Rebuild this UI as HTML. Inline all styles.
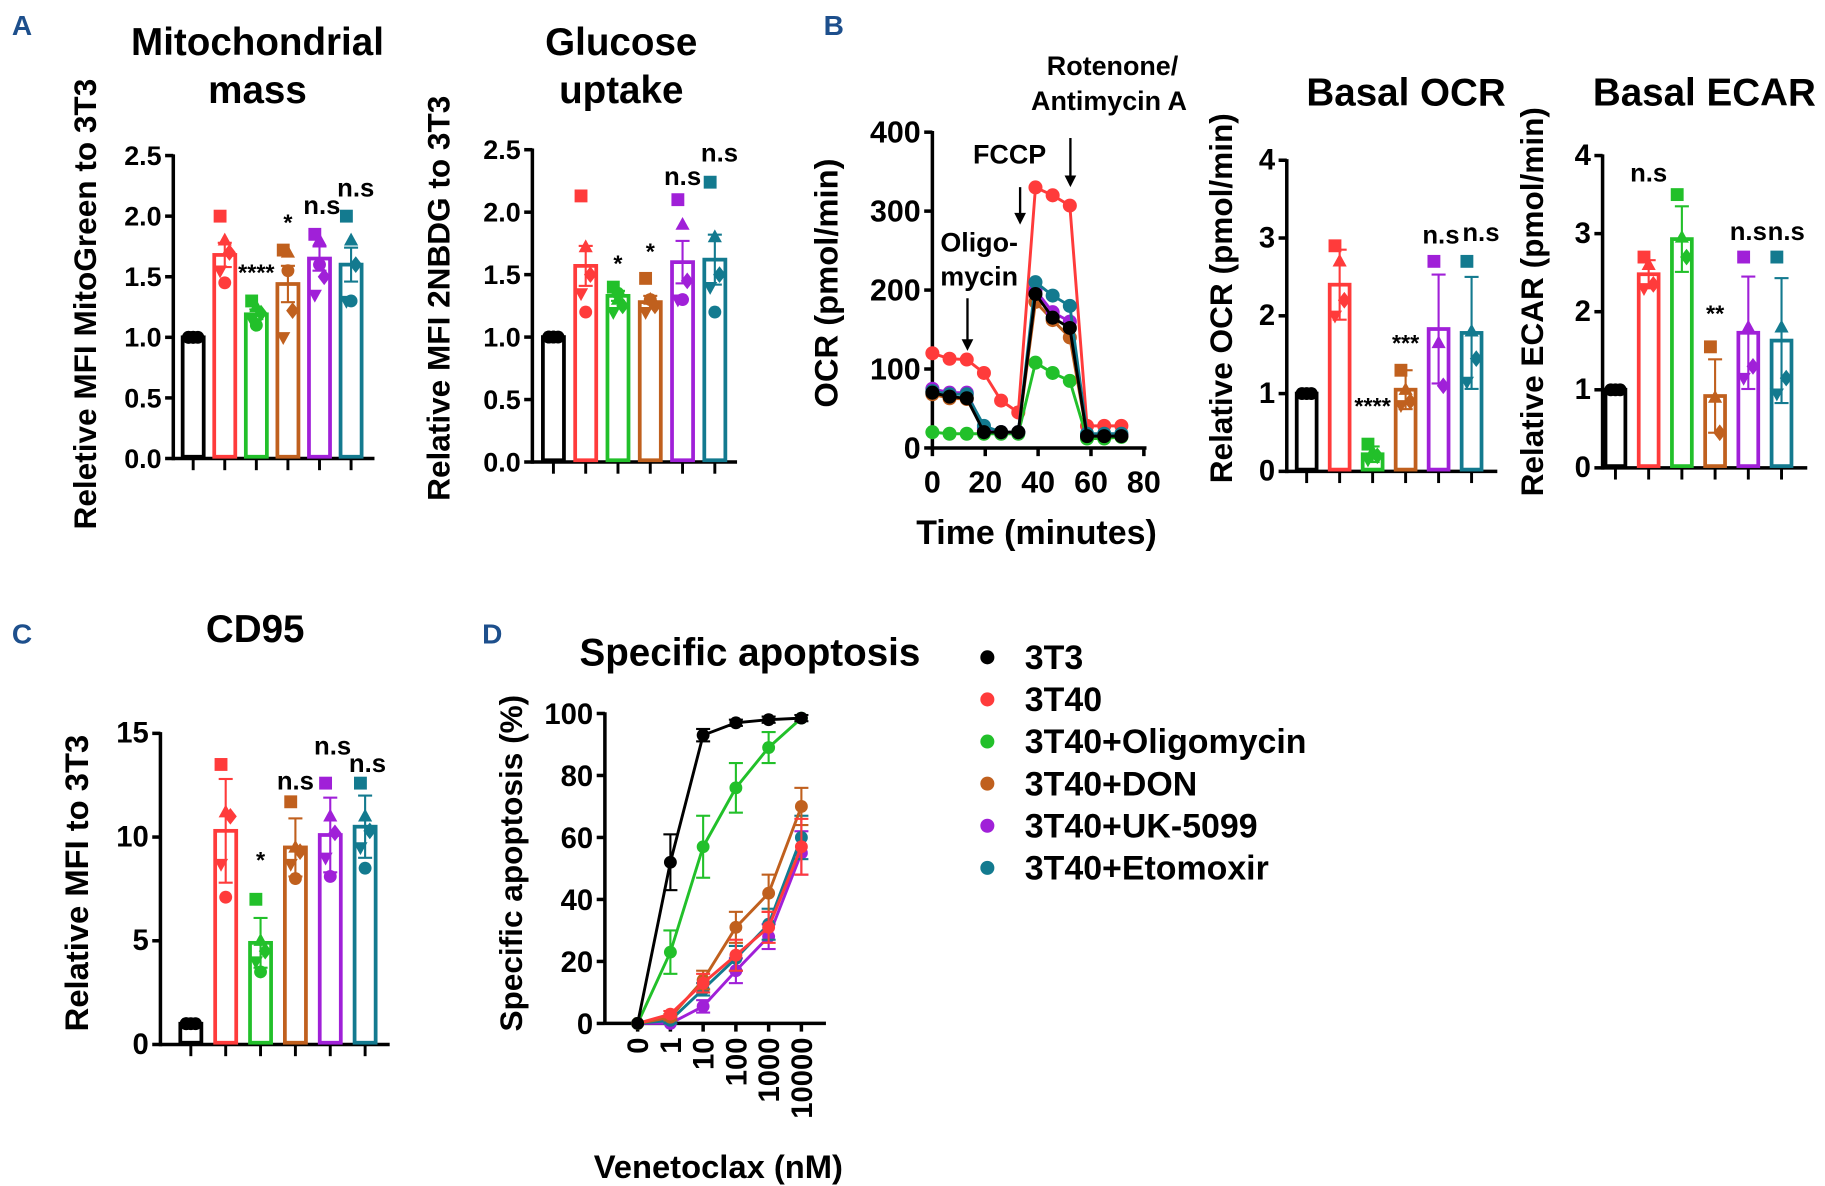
<!DOCTYPE html>
<html><head><meta charset="utf-8">
<style>
html,body{margin:0;padding:0;background:#fff;}
svg{display:block;}
text{font-family:"Liberation Sans",Arial,sans-serif;font-weight:bold;fill:#000;}
</style></head>
<body>
<svg id="fig" width="1825" height="1186" viewBox="0 0 1560 1014" xmlns="http://www.w3.org/2000/svg">
<text x="10" y="30" font-size="24" style="fill:#1d4f8c">A</text>
<text x="704" y="30" font-size="24" style="fill:#1d4f8c">B</text>
<text x="10" y="550" font-size="24" style="fill:#1d4f8c">C</text>
<text x="412" y="550" font-size="24" style="fill:#1d4f8c">D</text>
</svg>
<script>
const NS="http://www.w3.org/2000/svg";
const svg=document.getElementById('fig');
const groupColors=["#000000","#ff3b3b","#22c02a","#c0601e","#a020d8","#137a8f"];
const groupNames=["3T3","3T40","3T40+Oligomycin","3T40+DON","3T40+UK-5099","3T40+Etomoxir"];

// Mitochondrial mass
const mitoMeans=[1.0,1.68,1.19,1.44,1.65,1.6];
const mitoErr=[0.01,0.1,0.04,0.15,0.1,0.14];
const mitoPts=[[1,1,1,1,1],[2.0,1.8,1.7,1.55,1.45],[1.3,1.25,1.2,1.15,1.1],[1.72,1.7,1.22,1.0,1.55],[1.85,1.8,1.5,1.35,1.6],[2.0,1.8,1.6,1.3,1.3]];
const mitoSig=["","","****","*","n.s","n.s"];
const mitoTicks=["0.0","0.5","1.0","1.5","2.0","2.5"];
// Glucose uptake
const gluMeans=[1.0,1.57,1.33,1.28,1.6,1.62];
const gluErr=[0.01,0.16,0.04,0.05,0.17,0.2];
const gluPts=[[1,1,1,1,1],[2.13,1.72,1.5,1.35,1.2],[1.4,1.3,1.25,1.2,1.35],[1.47,1.3,1.25,1.2,1.3],[2.1,1.9,1.45,1.3,1.3],[2.24,1.8,1.5,1.4,1.2]];
const gluSig=["","","*","*","n.s","n.s"];
// Basal OCR
const ocrMeans=[1.0,2.4,0.22,1.05,1.83,1.78];
const ocrErr=[0.01,0.45,0.1,0.25,0.7,0.72];
const ocrPts=[[1,1,1],[2.9,2.7,2.2,2.0],[0.35,0.25,0.2,0.15],[1.3,1.05,0.9,0.85],[2.7,1.65,1.1],[2.7,1.8,1.45,1.15]];
const ocrSig=["","","****","***","n.s","n.s"];
const fourTicks=["0","1","2","3","4"];
// Basal ECAR
const ecarMeans=[1.0,2.48,2.93,0.92,1.73,1.63];
const ecarErr=[0.01,0.18,0.42,0.47,0.72,0.8];
const ecarPts=[[1,1,1],[2.7,2.6,2.35,2.3],[3.5,2.95,2.7],[1.55,0.9,0.45],[2.7,1.8,1.3,1.15],[2.7,1.8,1.15,0.95]];
const ecarSig=["","n.s","","**","n.s","n.s"];
// CD95
const cdMeans=[1.0,10.3,4.9,9.5,10.1,10.5];
const cdErr=[0.1,2.5,1.2,1.4,1.8,1.5];
const cdPts=[[1,1,1,1],[13.5,11.2,11,8.7,7.1],[7,5,4.5,4,3.5],[11.7,9.5,9.3,8.7,8],[12.6,11,10.2,9,8.1],[12.6,11,10.3,9.5,8.5]];
const cdSig=["","","*","n.s","n.s","n.s"];
const cdTicks=["0","5","10","15"];
// OCR time course
const ocrTimes=[0,6.5,13,19.5,26,32.5,39,45.5,52,58.5,65,71.5];
const ocrRed=[120,113,112,95,60,45,330,320,307,28,28,28];
const ocrBlack=[70,65,63,20,20,20,195,165,152,15,15,15];
const ocrGreen=[20,18,18,18,18,18,108,95,85,12,12,14];
const ocrTeal=[72,68,68,28,20,20,210,193,180,18,18,18];
const ocrPurple=[75,70,70,25,20,20,200,172,160,16,16,16];
const ocrBrown=[68,63,62,22,20,20,185,162,140,16,16,16];
const ocrYTicks=["0","100","200","300","400"];
const ocrXTicks=["0","20","40","60","80"];
// Apoptosis
const doseLabels=["0","1","10","100","1000","10000"];
const apoBlack=[0,52,93,97,98,98.5];
const apoBlackErr=[0,9,2,1,1,1];
const apoGreen=[0,23,57,76,89,98.5];
const apoGreenErr=[0,7,10,8,5,0];
const apoBrown=[0,2,14,31,42,70];
const apoBrownErr=[0,1,3,5,6,6];
const apoPurple=[0,0,5.5,17,28,55];
const apoPurpleErr=[0,0,2,4,4,7];
const apoTeal=[0,1,11,21,32,60];
const apoTealErr=[0,1,2,4,5,7];
const apoRed=[0,3,13,22,31,57];
const apoRedErr=[0,1,3,5,5,9];
const apoYTicks=["0","20","40","60","80","100"];

function mk(tag,attrs,parent){const e=document.createElementNS(NS,tag);for(const k in attrs)e.setAttribute(k,attrs[k]);(parent||svg).appendChild(e);return e;}
function txt(x,y,s,size,anchor,parent,rot){const e=mk('text',{x:x,y:y,'font-size':size,'text-anchor':anchor||'middle'},parent);if(rot)e.setAttribute('transform',rot);e.textContent=s;return e;}

function marker(shape,x,y,r,col,parent){
  let e;
  if(shape===0)e=mk('circle',{cx:x,cy:y,r:r,fill:col},parent);
  else if(shape===1)e=mk('rect',{x:x-r,y:y-r,width:2*r,height:2*r,fill:col},parent);
  else if(shape===2)e=mk('polygon',{points:`${x},${y-r*1.2} ${x-r*1.1},${y+r*0.8} ${x+r*1.1},${y+r*0.8}`,fill:col},parent);
  else if(shape===3)e=mk('polygon',{points:`${x},${y-r*1.3} ${x+r},${y} ${x},${y+r*1.3} ${x-r},${y}`,fill:col},parent);
  else e=mk('polygon',{points:`${x},${y+r*1.2} ${x-r*1.1},${y-r*0.8} ${x+r*1.1},${y-r*0.8}`,fill:col},parent);
  return e;
}

function barChart(cfg){
  const g=mk('g',{});
  
  
  const ys=v=>cfg.y0-(v-cfg.vmin)/(cfg.vmax-cfg.vmin)*(cfg.y0-cfg.y1);
  cfg.title.forEach((t,i)=>{const e=txt(cfg.tx,cfg.ty+i*41,t,cfg.tsize||33,'middle',g);});
  const yl=txt(0,0,cfg.ylabel,cfg.ylsize||26,'middle',g,`translate(${cfg.ylx},${cfg.yly}) rotate(-90)`);
  
  
  const ya=mk('line',{x1:cfg.ax,y1:cfg.y1-1,x2:cfg.ax,y2:cfg.y0+1.5,stroke:'#000','stroke-width':3},g);
  
  
  const xa=mk('line',{x1:cfg.ax,y1:cfg.y0,x2:cfg.axEnd,y2:cfg.y0,stroke:'#000','stroke-width':3},g);
  
  
  cfg.ticks.forEach(t=>{const v=parseFloat(t);const y=ys(v);
    mk('line',{x1:cfg.ax-7,y1:y,x2:cfg.ax,y2:y,stroke:'#000','stroke-width':3},g);
    const e=txt(cfg.ax-10,y+8,t,cfg.ticksize||23,'end',g);
    
    
  });
  cfg.means.forEach((m,i)=>{
    const x=cfg.x0+i*cfg.dx, col=groupColors[i];
    mk('line',{x1:x,y1:cfg.y0,x2:x,y2:cfg.y0+10,stroke:'#000','stroke-width':2.5},g);
    const top=ys(m);
    const b=mk('rect',{x:x-cfg.bw/2,y:top,width:cfg.bw,height:cfg.y0-top-1.5,fill:'none',stroke:col,'stroke-width':3.2},g);
    
    
    const et=ys(m+cfg.err[i]), eb=ys(Math.max(m-cfg.err[i],0));
    mk('line',{x1:x,y1:et,x2:x,y2:eb,stroke:col,'stroke-width':1.8},g);
    mk('line',{x1:x-6,y1:et,x2:x+6,y2:et,stroke:col,'stroke-width':1.8},g);
    mk('line',{x1:x-6,y1:eb,x2:x+6,y2:eb,stroke:col,'stroke-width':1.8},g);
    cfg.pts[i].forEach((p,j)=>{const off=((j%3)-1)*4;const mm=marker(i===0?0:(j+1)%5,x+off,ys(p),5.5,col,g);
      
      });
    if(cfg.sig[i]){const sy=cfg.sigY[i];const e=txt(x+(cfg.sigDx?cfg.sigDx[i]:0),sy,cfg.sig[i],cfg.sig[i].indexOf('*')>=0?20:22,'middle',g);
      e.setAttribute('font-weight','normal');
      
      }
  });
}

barChart({name:'mito-mass-chart',title:['Mitochondrial','mass'],tx:220,ty:47,ylabel:'Reletive MFI MitoGreen to 3T3',ylx:82,yly:260,ylsize:27,
  ax:148,axEnd:320,y0:392,y1:133,vmin:0,vmax:2.5,ticks:mitoTicks,x0:165,dx:27,bw:18,means:mitoMeans,err:mitoErr,pts:mitoPts,sig:mitoSig,
  sigY:[0,0,240,197,183,168],sigDx:[0,0,0,0,2,4]});
barChart({name:'glucose-uptake-chart',title:['Glucose','uptake'],tx:531,ty:47,ylabel:'Relative MFI 2NBDG to 3T3',ylx:384,yly:255,ylsize:27,
  ax:455,axEnd:630,y0:395,y1:128,vmin:0,vmax:2.5,ticks:mitoTicks,x0:473,dx:27.6,bw:18,means:gluMeans,err:gluErr,pts:gluPts,sig:gluSig,
  sigY:[0,0,232,222,158,138],sigDx:[0,0,0,0,0,4]});
barChart({name:'basal-ocr-chart',title:['Basal OCR'],tx:1202,ty:90,ylabel:'Relative OCR (pmol/min)',ylx:1053,yly:255,ylsize:27,
  ax:1100,axEnd:1280,y0:403,y1:137,vmin:0,vmax:4,ticks:fourTicks,ticksize:25,x0:1117,dx:28.2,bw:17,means:ocrMeans,err:ocrErr,pts:ocrPts,sig:ocrSig,
  sigY:[0,0,354,300,208,206],sigDx:[0,0,0,0,2,8]});
barChart({name:'basal-ecar-chart',title:['Basal ECAR'],tx:1457,ty:90,ylabel:'Relative ECAR (pmol/min)',ylx:1319,yly:258,ylsize:27,
  ax:1370,axEnd:1545,y0:400,y1:133,vmin:0,vmax:4,ticks:fourTicks,ticksize:25,x0:1381,dx:28.4,bw:17,means:ecarMeans,err:ecarErr,pts:ecarPts,sig:ecarSig,
  sigY:[0,155,0,275,205,205],sigDx:[0,0,0,0,0,4]});
barChart({name:'cd95-chart',title:['CD95'],tx:218,ty:549,ylabel:'Relative MFI to 3T3',ylx:75,yly:755,ylsize:28,
  ax:137,axEnd:333,y0:893,y1:627,vmin:0,vmax:15,ticks:cdTicks,ticksize:25,x0:163,dx:29.8,bw:18,means:cdMeans,err:cdErr,pts:cdPts,sig:cdSig,
  sigY:[0,0,742,675,645,660],sigDx:[0,0,0,0,2,2]});

// OCR time course
(function(){
  const g=mk('g',{});
  
  
  const ax=797,y0=383,y1=113,xs=t=>ax+t*2.26,ys=v=>y0-v/400*(y0-y1);
  const yl=txt(0,0,'OCR (pmol/min)',28,'middle',g,'translate(716,242) rotate(-90)');
  
  
  const xt=txt(886,465,'Time (minutes)',29,'middle',g);
  
  
  mk('line',{x1:ax,y1:y1-1,x2:ax,y2:y0+1,stroke:'#000','stroke-width':3},g);
  mk('line',{x1:ax,y1:y0,x2:xs(81),y2:y0,stroke:'#000','stroke-width':3},g);
  ocrYTicks.forEach(t=>{const y=ys(+t);mk('line',{x1:ax-7,y1:y,x2:ax,y2:y,stroke:'#000','stroke-width':3},g);
    const e=txt(ax-10,y+9,t,26,'end',g);});
  ocrXTicks.forEach(t=>{const x=xs(+t);mk('line',{x1:x,y1:y0,x2:x,y2:y0+7,stroke:'#000','stroke-width':3},g);
    const e=txt(x,y0+38,t,26,'middle',g);});
  const series=[[ocrRed,1],[ocrGreen,2],[ocrBrown,3],[ocrPurple,4],[ocrTeal,5],[ocrBlack,0]];
  series.forEach(([d,ci])=>{
    const col=groupColors[ci];
    const pl=mk('polyline',{points:d.map((v,i)=>xs(ocrTimes[i])+','+ys(v)).join(' '),fill:'none',stroke:col,'stroke-width':2.5},g);
    
    
    d.forEach((v,i)=>{const c=mk('circle',{cx:xs(ocrTimes[i]),cy:ys(v),r:6,fill:col},g);
      
      });
  });
  function arrow(x,ya,yb){mk('line',{x1:x,y1:ya,x2:x,y2:yb-8,stroke:'#000','stroke-width':2},g);
    mk('polygon',{points:`${x-5},${yb-10} ${x+5},${yb-10} ${x},${yb}`,fill:'#000'},g);}
  arrow(827,255,300);arrow(872,160,192);arrow(915,118,160);
  [['Oligo-',837,215],['mycin',837,244],['FCCP',863,140],['Rotenone/',951,64],['Antimycin A',948,94]].forEach(a=>{
    const e=txt(a[1],a[2],a[0],23,'middle',g);});
})();

// Apoptosis
(function(){
  const g=mk('g',{});
  
  
  const ax=517,y0=875,y1=610,xs=i=>545+i*28,ys=v=>y0-v/100*(y0-y1);
  const tt=txt(641,569,'Specific apoptosis',33,'middle',g);
  
  
  const yl=txt(0,0,'Specific apoptosis (%)',27,'middle',g,'translate(446,738) rotate(-90)');
  
  
  const xt=txt(614,1007,'Venetoclax (nM)',28,'middle',g);
  
  
  mk('line',{x1:ax,y1:y1-1,x2:ax,y2:y0+1,stroke:'#000','stroke-width':3},g);
  mk('line',{x1:ax,y1:y0,x2:706,y2:y0,stroke:'#000','stroke-width':3},g);
  apoYTicks.forEach(t=>{const y=ys(+t);mk('line',{x1:ax-7,y1:y,x2:ax,y2:y,stroke:'#000','stroke-width':3},g);
    const e=txt(ax-10,y+9,t,25,'end',g);});
  doseLabels.forEach((t,i)=>{const x=xs(i);mk('line',{x1:x,y1:y0,x2:x,y2:y0+7,stroke:'#000','stroke-width':3},g);
    const e=txt(0,0,t,25,'end',g,`translate(${x+9},${y0+12}) rotate(-90)`);});
  const series=[[apoPurple,apoPurpleErr,4],[apoTeal,apoTealErr,5],[apoBrown,apoBrownErr,3],[apoRed,apoRedErr,1],[apoGreen,apoGreenErr,2],[apoBlack,apoBlackErr,0]];
  series.forEach(([d,er,ci])=>{
    const col=groupColors[ci];
    const pl=mk('polyline',{points:d.map((v,i)=>xs(i)+','+ys(v)).join(' '),fill:'none',stroke:col,'stroke-width':2.5},g);
    
    
    d.forEach((v,i)=>{
      if(er[i]>0){const a=ys(v+er[i]),b=ys(v-er[i]);
        mk('line',{x1:xs(i),y1:a,x2:xs(i),y2:b,stroke:col,'stroke-width':1.8},g);
        mk('line',{x1:xs(i)-6,y1:a,x2:xs(i)+6,y2:a,stroke:col,'stroke-width':1.8},g);
        mk('line',{x1:xs(i)-6,y1:b,x2:xs(i)+6,y2:b,stroke:col,'stroke-width':1.8},g);}
      const c=mk('circle',{cx:xs(i),cy:ys(v),r:5.5,fill:col},g);
      
      
    });
  });
  groupNames.forEach((n,i)=>{
    const y=562+i*36;
    const c=mk('circle',{cx:844,cy:y,r:6,fill:groupColors[i]});
    
    
    const e=txt(876,y+10,n,29,'start');
    
    
  });
})();
</script>
</body></html>
